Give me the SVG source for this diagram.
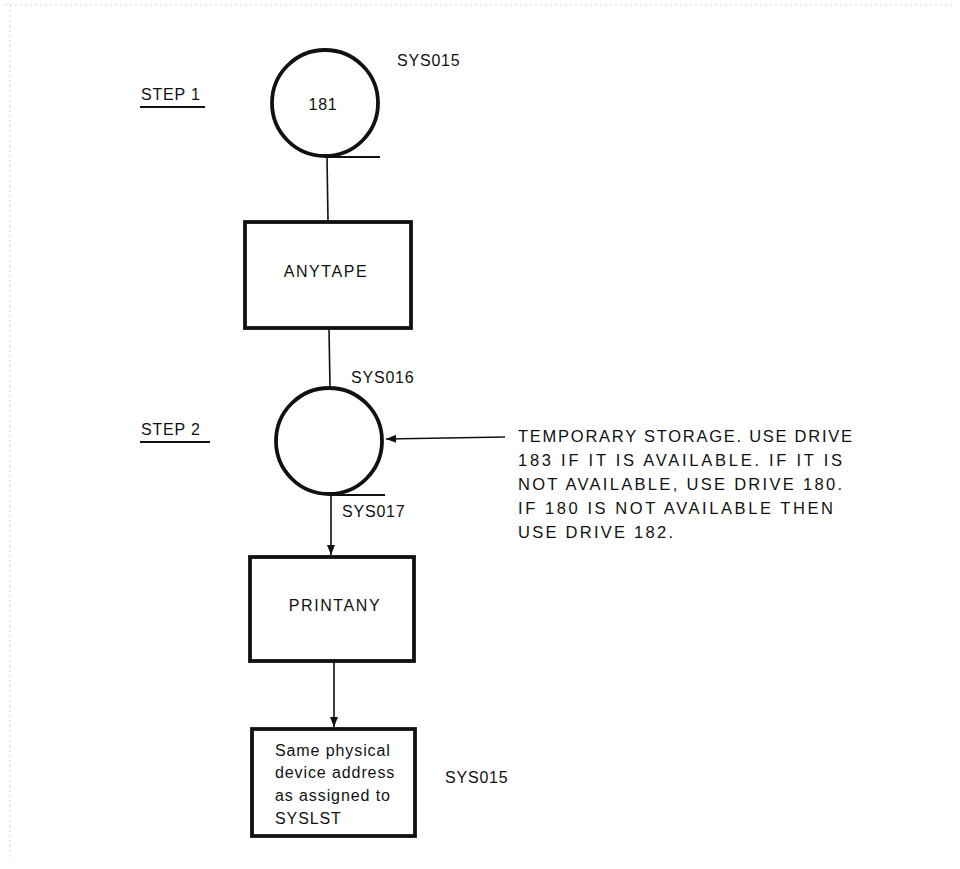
<svg xmlns="http://www.w3.org/2000/svg" width="960" height="869" viewBox="0 0 960 869">
  <style>
    text { font-family: "Liberation Sans", Arial, sans-serif; fill: #111; }
    .lbl { font-size: 16px; letter-spacing: 0.8px; }
    .name { font-size: 16px; letter-spacing: 1.6px; }
    .note { font-size: 16.5px; }
    .dev { font-size: 16px; letter-spacing: 0.9px; }
    .shape { fill: #fff; stroke: #111; stroke-width: 3.8; }
    .line { stroke: #111; stroke-width: 1.6; fill: none; }
    .edge { stroke: #d4d4d4; stroke-width: 1; stroke-dasharray: 2 3; fill: none; }
  </style>
  <defs>
    <marker id="arrow" viewBox="0 0 10 10" refX="10" refY="5" markerWidth="10" markerHeight="10" markerUnits="userSpaceOnUse" orient="auto">
      <path d="M0,1 L10,5 L0,9 Z" fill="#111"/>
    </marker>
  </defs>

  <rect width="960" height="869" fill="#fff"/>
  <!-- page border -->
  <path class="edge" d="M5,5 H955 M10,5 V860"/>

  <!-- step captions -->
  <g id="step1">
    <text class="lbl" x="141" y="100">STEP 1</text>
    <line x1="140" y1="107" x2="205" y2="107" stroke="#111" stroke-width="2"/>
  </g>
  <g id="step2">
    <text class="lbl" x="141" y="435">STEP 2</text>
    <line x1="140" y1="442" x2="210" y2="442" stroke="#111" stroke-width="2"/>
  </g>

  <!-- connectors -->
  <g id="connectors">
    <line class="line" x1="327" y1="157" x2="328" y2="221"/>
    <line class="line" x1="329" y1="329" x2="330" y2="387"/>
    <line class="line" x1="331" y1="495" x2="331" y2="555" marker-end="url(#arrow)"/>
    <line class="line" x1="334" y1="662" x2="334" y2="727" marker-end="url(#arrow)"/>
    <line class="line" x1="505" y1="437" x2="386" y2="439" marker-end="url(#arrow)"/>
  </g>

  <!-- tape 181 -->
  <g id="tape181">
    <circle class="shape" cx="325" cy="103" r="53"/>
    <line x1="325" y1="157" x2="380" y2="157" stroke="#111" stroke-width="2"/>
    <text class="lbl" x="323" y="110" text-anchor="middle" font-size="17">181</text>
    <text class="lbl" x="397" y="66">SYS015</text>
  </g>

  <!-- ANYTAPE program -->
  <g id="anytape">
    <rect class="shape" x="245" y="222" width="166" height="106"/>
    <text class="name" x="326" y="277" text-anchor="middle">ANYTAPE</text>
  </g>

  <!-- temporary storage tape -->
  <g id="tempTape">
    <circle class="shape" cx="329" cy="441" r="53"/>
    <line x1="329" y1="495" x2="385" y2="495" stroke="#111" stroke-width="2"/>
    <text class="lbl" x="351" y="383">SYS016</text>
    <text class="lbl" x="342" y="517">SYS017</text>
  </g>

  <!-- note on drive choice -->
  <g id="driveNote">
    <text class="note" x="518" y="442" textLength="334" lengthAdjust="spacing">TEMPORARY STORAGE. USE DRIVE</text>
    <text class="note" x="518" y="466" textLength="324" lengthAdjust="spacing">183 IF IT IS AVAILABLE. IF IT IS</text>
    <text class="note" x="518" y="490" textLength="324" lengthAdjust="spacing">NOT AVAILABLE, USE DRIVE 180.</text>
    <text class="note" x="518" y="514" textLength="315" lengthAdjust="spacing">IF 180 IS NOT AVAILABLE THEN</text>
    <text class="note" x="518" y="538" textLength="155" lengthAdjust="spacing">USE DRIVE 182.</text>
  </g>

  <!-- PRINTANY program -->
  <g id="printany">
    <rect class="shape" x="250" y="557" width="164" height="104"/>
    <text class="name" x="335" y="611" text-anchor="middle">PRINTANY</text>
  </g>

  <!-- printer device -->
  <g id="printer">
    <rect class="shape" x="252" y="729" width="163" height="107"/>
    <text class="dev" x="275" y="756">Same physical</text>
    <text class="dev" x="275" y="778">device address</text>
    <text class="dev" x="275" y="801">as assigned to</text>
    <text class="dev" x="275" y="824">SYSLST</text>
    <text class="lbl" x="445" y="783">SYS015</text>
  </g>
</svg>
